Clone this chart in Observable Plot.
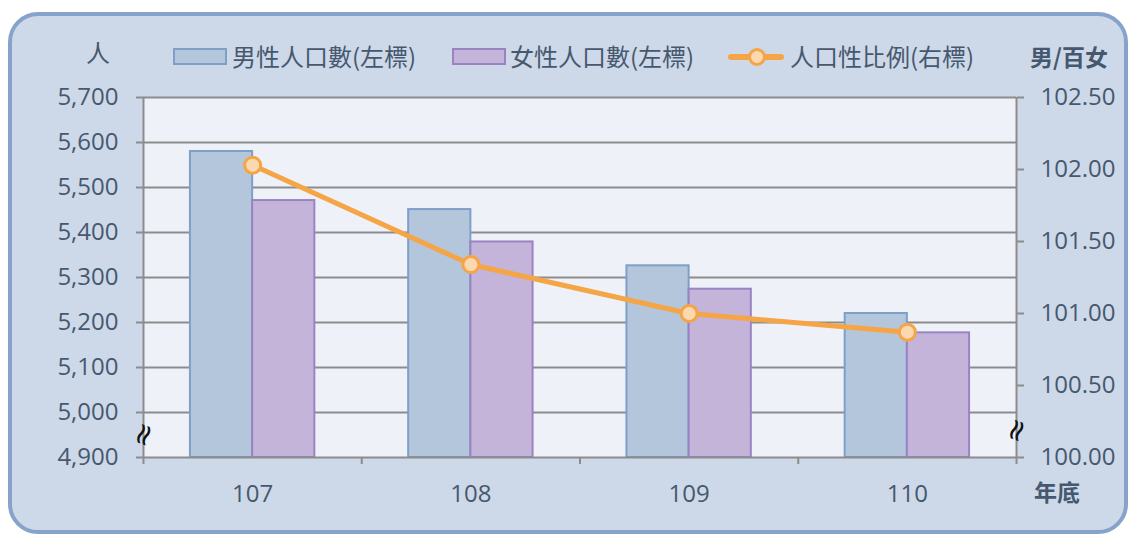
<!DOCTYPE html>
<html><head><meta charset="utf-8">
<script src="https://cdn.jsdelivr.net/npm/d3@7"></script>
<script src="https://cdn.jsdelivr.net/npm/@observablehq/plot@0.6"></script>
<style>
html,body{margin:0;padding:0;background:#fff;}
body{width:1132px;height:534px;overflow:hidden;position:relative;font-family:"Open Sans","Noto Sans CJK TC",sans-serif;color:#46586f;}
#panel{position:absolute;left:8px;top:12px;width:1120px;height:522px;box-sizing:border-box;border:4px solid #86a4ca;border-radius:30px;background:#cdd9e8;}
#chart{position:absolute;left:0;top:0;}
.lab{position:absolute;font-family:"Noto Sans CJK TC",sans-serif;font-size:24px;line-height:1;white-space:nowrap;color:#46586f;}
.sw{position:absolute;box-sizing:border-box;}
</style></head>
<body>
<div id="panel"></div>
<div id="chart"></div>
<div class="lab" style="left:86px;top:40px;">人</div>
<div class="lab" style="left:1030px;top:45px;font-weight:bold;font-size:23px;">男/百女</div>
<div class="lab" style="left:1034px;top:480px;font-weight:bold;font-size:23px;">年底</div>
<div id="legend"></div>
<script>
const years = [107, 108, 109, 110];
const malePop = [5580, 5451, 5326, 5220];
const femalePop = [5471, 5379, 5274, 5177];
const sexRatio = [102.03, 101.34, 101.00, 100.87];
const leftTicks = [4900, 5000, 5100, 5200, 5300, 5400, 5500, 5600, 5700];
const rightTicks = [100.00, 100.50, 101.00, 101.50, 102.00, 102.50];
const seriesNames = ["男性人口數(左標)", "女性人口數(左標)", "人口性比例(右標)"];

const C = {male:"#b3c6dc", maleS:"#7e9fc7", female:"#c4b4d9", femaleS:"#9a83c3", line:"#f5a545", dot:"#fcd8b0", grid:"#8c8c8c", text:"#46586f"};

// map right-axis ratio onto the left-axis domain (100..102.5 -> 4900..5700)
const toLeft = r => 4900 + (r - 100) * 320;
const fromLeft = v => (v - 4900) / 320 + 100;

const maleRows = years.map((y, i) => ({year: y, value: malePop[i]}));
const femaleRows = years.map((y, i) => ({year: y, value: femalePop[i]}));
const ratioRows = years.map((y, i) => ({year: y, ratio: sexRatio[i]}));
const bounds = [106.5, 107.5, 108.5, 109.5, 110.5];
const half = 0.285;
const comma = d3.format(",");

const chart = Plot.plot({
  width: 1132, height: 534,
  marginLeft: 143, marginRight: 116, marginTop: 97, marginBottom: 77,
  style: {background: "transparent", fontFamily: "'Open Sans', sans-serif", fontSize: "24px", color: C.text},
  x: {type: "linear", domain: [106.5, 110.5], axis: null},
  y: {domain: [4900, 5700], axis: null},
  marks: [
    Plot.frame({fill: "#eef2f8", stroke: null}),
    Plot.ruleY(leftTicks.slice(1), {stroke: C.grid, strokeWidth: 2}),
    Plot.rect(maleRows, {x1: d => d.year - half, x2: d => d.year, y1: () => 4900, y2: "value", fill: C.male, stroke: C.maleS, strokeWidth: 2}),
    Plot.rect(femaleRows, {x1: d => d.year, x2: d => d.year + half, y1: () => 4900, y2: "value", fill: C.female, stroke: C.femaleS, strokeWidth: 2}),
    Plot.ruleX([106.5, 110.5], {y1: 4900, y2: 5700, stroke: C.grid, strokeWidth: 2}),
    Plot.ruleY([4900], {stroke: C.grid, strokeWidth: 2}),
    Plot.axisY({anchor: "left", ticks: leftTicks, tickFormat: d => comma(d), tickSize: 7, tickPadding: 18, stroke: C.grid, strokeWidth: 2, fill: C.text, label: null}),
    Plot.axisY({anchor: "right", ticks: rightTicks.map(toLeft), tickFormat: v => fromLeft(v).toFixed(2), tickSize: 7, tickPadding: 17, stroke: C.grid, strokeWidth: 2, fill: C.text, label: null}),
    Plot.axisX({ticks: bounds, tickFormat: () => "", tickSize: 7, stroke: C.grid, strokeWidth: 2, label: null}),
    Plot.axisX({ticks: years, tickFormat: d => String(d), tickSize: 0, tickPadding: 27, fill: C.text, label: null}),
    Plot.line(ratioRows, {x: "year", y: d => toLeft(d.ratio), stroke: C.line, strokeWidth: 5}),
    Plot.dot(ratioRows, {x: "year", y: d => toLeft(d.ratio), r: 8, fill: C.dot, stroke: C.line, strokeWidth: 3}),
    Plot.text(["≈"], {x: () => 106.5, y: () => 4951, text: d => d, rotate: -70, fontSize: 30, fontFamily: "DejaVu Sans", fill: "#111"}),
    Plot.text(["≈"], {x: () => 110.5, y: () => 4960, text: d => d, rotate: -70, fontSize: 30, fontFamily: "DejaVu Sans", fill: "#111"})
  ]
});
document.getElementById("chart").append(chart);

// legend
const lg = document.getElementById("legend");
function add(html){ lg.insertAdjacentHTML("beforeend", html); }
add(`<div class="sw" style="left:173px;top:48px;width:54px;height:17px;background:${C.male};border:2px solid ${C.maleS};"></div>`);
add(`<div class="lab" style="left:232px;top:44px;">${seriesNames[0]}</div>`);
add(`<div class="sw" style="left:452px;top:48px;width:54px;height:17px;background:${C.female};border:2px solid ${C.femaleS};"></div>`);
add(`<div class="lab" style="left:510px;top:44px;">${seriesNames[1]}</div>`);
add(`<div class="sw" style="left:728px;top:54px;width:56px;height:6px;background:${C.line};border-radius:3px;"></div>`);
add(`<div class="sw" style="left:748px;top:48px;width:18px;height:18px;background:${C.dot};border:3px solid ${C.line};border-radius:50%;"></div>`);
add(`<div class="lab" style="left:790px;top:44px;">${seriesNames[2]}</div>`);
</script>
</body></html>
